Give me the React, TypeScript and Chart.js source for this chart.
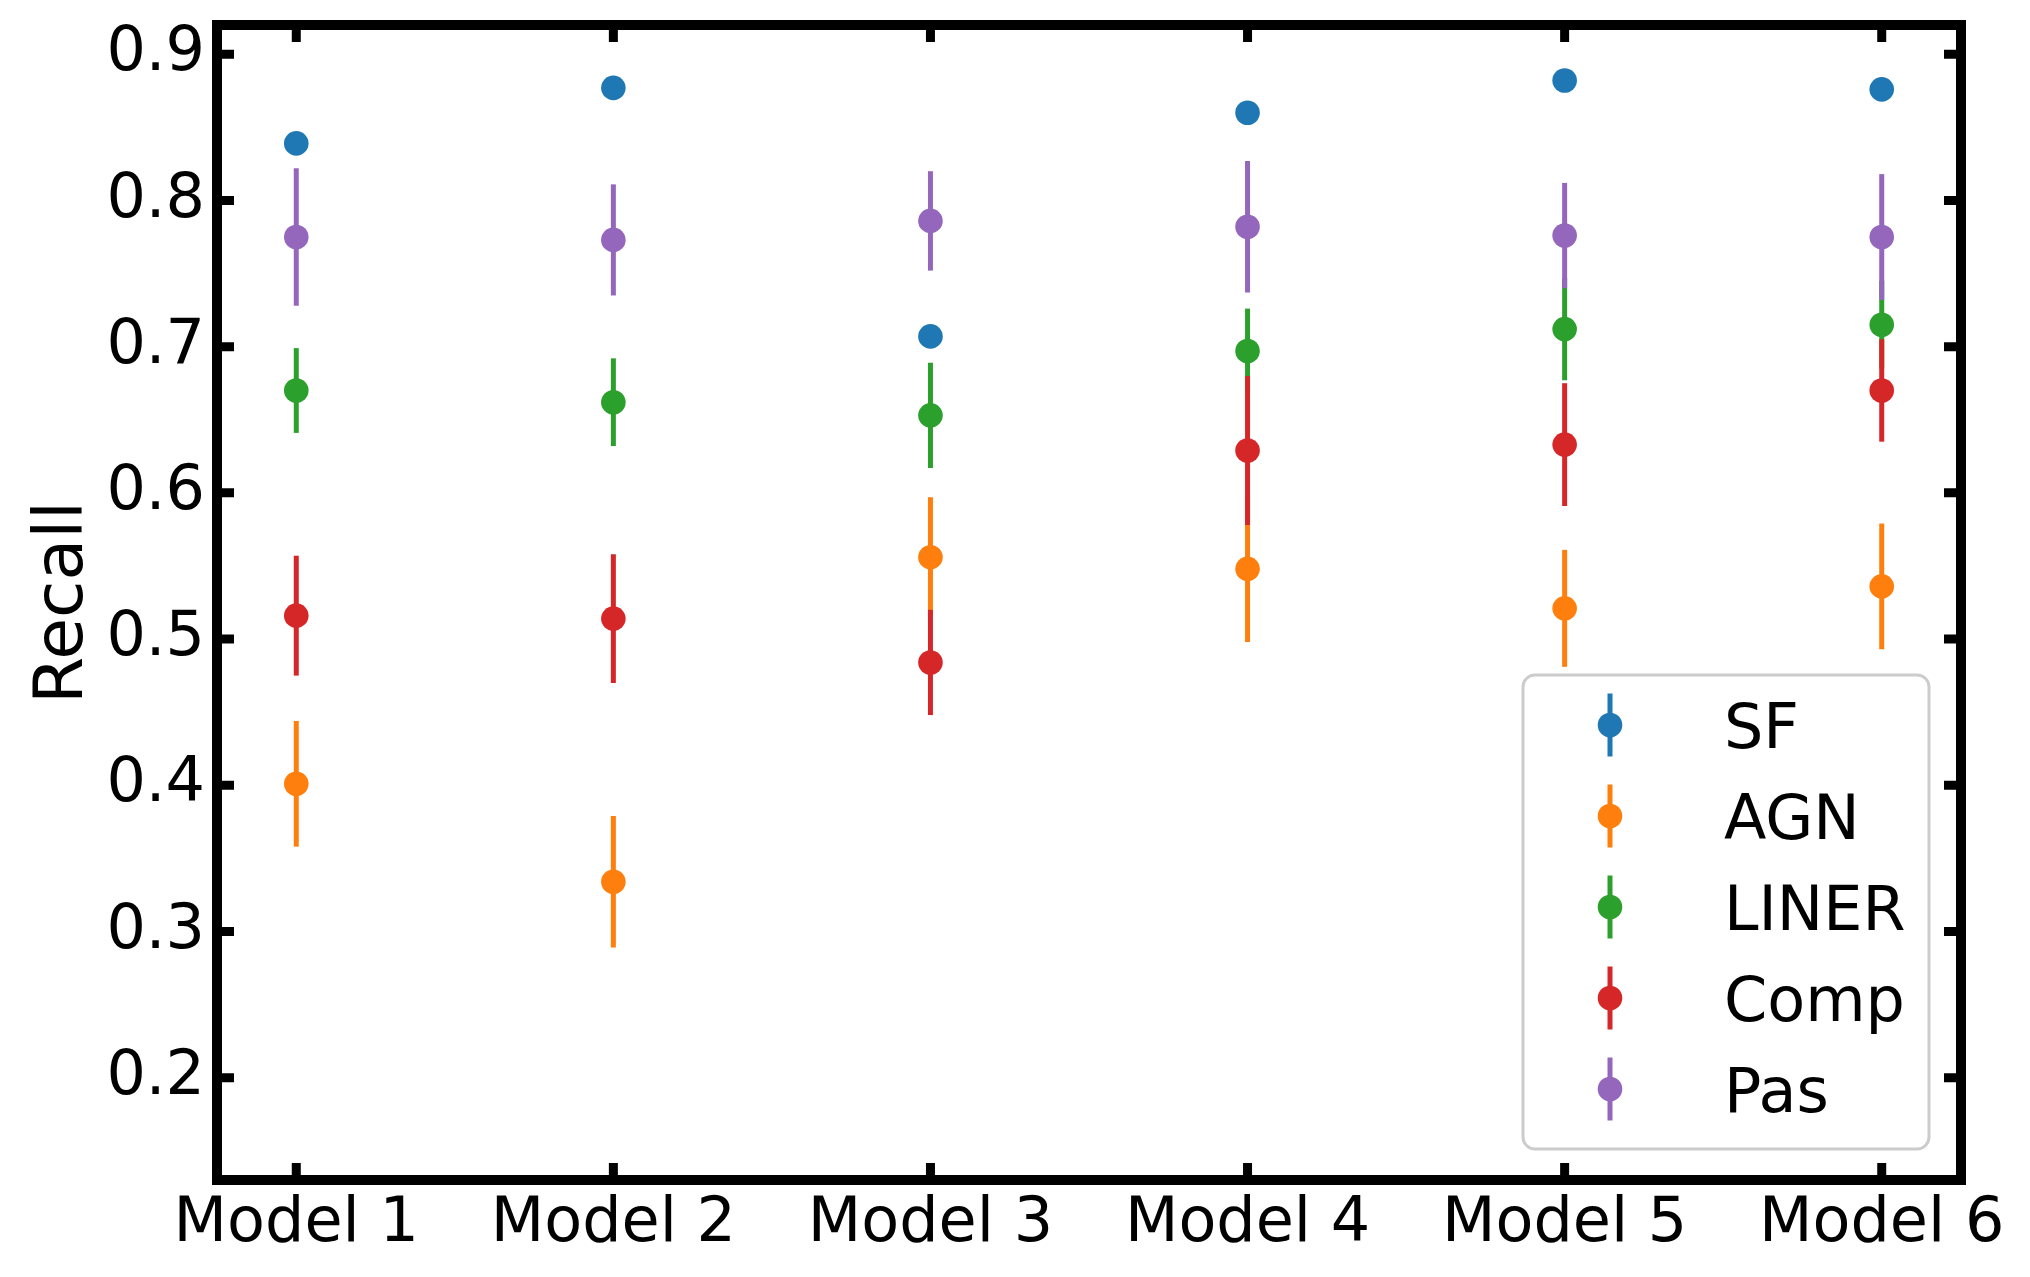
import { useEffect, useRef } from 'react';
import { Chart, registerables } from 'chart.js';

Chart.register(...registerables);

// Categories and classes
const models = ['Model 1', 'Model 2', 'Model 3', 'Model 4', 'Model 5', 'Model 6'];
const classNames = ['SF', 'AGN', 'LINER', 'Comp', 'Pas'];
const classColors = ['#1f77b4', '#ff7f0e', '#2ca02c', '#d62728', '#9467bd'];

// Recall per class (one value per model) and symmetric errors
const sfRecall = [0.839, 0.877, 0.707, 0.86, 0.882, 0.876];
const sfErr = [0, 0, 0, 0, 0, 0];
const agnRecall = [0.401, 0.334, 0.556, 0.548, 0.521, 0.536];
const agnErr = [0.043, 0.045, 0.041, 0.05, 0.04, 0.043];
const linerRecall = [0.67, 0.662, 0.653, 0.697, 0.712, 0.715];
const linerErr = [0.029, 0.03, 0.036, 0.029, 0.035, 0.03];
const compRecall = [0.516, 0.514, 0.484, 0.629, 0.633, 0.67];
const compErr = [0.041, 0.044, 0.036, 0.051, 0.042, 0.035];
const pasRecall = [0.775, 0.773, 0.786, 0.782, 0.776, 0.775];
const pasErr = [0.047, 0.038, 0.034, 0.045, 0.036, 0.043];

const yTicks = [0.2, 0.3, 0.4, 0.5, 0.6, 0.7, 0.8, 0.9];

const recallByClass = [sfRecall, agnRecall, linerRecall, compRecall, pasRecall];
const errByClass = [sfErr, agnErr, linerErr, compErr, pasErr];

const FONT = '"DejaVu Sans", sans-serif';
const TICK_SIZE = 62;
const MARKER_R = 12.3;
const ERR_WIDTH = 5;

// Error bars drawn just before each dataset's markers (matplotlib-like layering)
const errorBarPlugin = {
  id: 'errorBars',
  beforeDatasetDraw(chart: any, args: any) {
    const ds = chart.data.datasets[args.index];
    const errs: number[] = ds.errors;
    const { ctx } = chart;
    const xs = chart.scales.x;
    const ys = chart.scales.y;
    ctx.save();
    ctx.strokeStyle = ds.backgroundColor;
    ctx.lineWidth = ERR_WIDTH;
    ds.data.forEach((p: { x: number; y: number }, i: number) => {
      const e = errs[i];
      if (!e) return;
      const px = xs.getPixelForValue(p.x);
      ctx.beginPath();
      ctx.moveTo(px, ys.getPixelForValue(p.y - e));
      ctx.lineTo(px, ys.getPixelForValue(p.y + e));
      ctx.stroke();
    });
    ctx.restore();
  },
};

// Thick box frame with inward ticks on all four sides
const framePlugin = {
  id: 'frame',
  afterDatasetsDraw(chart: any) {
    const { ctx, chartArea } = chart;
    const { left, right, top, bottom } = chartArea;
    const xs = chart.scales.x;
    const ys = chart.scales.y;
    ctx.save();
    ctx.strokeStyle = '#000';
    ctx.lineWidth = 9;
    yTicks.forEach((v) => {
      const py = ys.getPixelForValue(v);
      ctx.beginPath();
      ctx.moveTo(left, py);
      ctx.lineTo(left + 17, py);
      ctx.moveTo(right, py);
      ctx.lineTo(right - 17, py);
      ctx.stroke();
    });
    models.forEach((_, i) => {
      const px = xs.getPixelForValue(i);
      ctx.beginPath();
      ctx.moveTo(px, bottom);
      ctx.lineTo(px, bottom - 17);
      ctx.moveTo(px, top);
      ctx.lineTo(px, top + 17);
      ctx.stroke();
    });
    ctx.lineWidth = 10;
    ctx.lineJoin = 'miter';
    ctx.strokeRect(left, top, right - left, bottom - top);
    ctx.restore();
  },
};

// Legend box in the lower right, markers drawn with error bar
const legendPlugin = {
  id: 'boxLegend',
  afterDraw(chart: any) {
    const { ctx, chartArea } = chart;
    const boxRight = chartArea.right - 32;
    const boxBottom = chartArea.bottom - 31;
    const boxW = 406;
    const boxH = 474;
    const boxLeft = boxRight - boxW;
    const boxTop = boxBottom - boxH;
    ctx.save();
    ctx.beginPath();
    ctx.roundRect(boxLeft, boxTop, boxW, boxH, 12);
    ctx.fillStyle = 'rgba(255,255,255,0.8)';
    ctx.fill();
    ctx.lineWidth = 3;
    ctx.strokeStyle = '#cccccc';
    ctx.stroke();

    ctx.font = `${TICK_SIZE}px ${FONT}`;
    ctx.textAlign = 'left';
    ctx.textBaseline = 'alphabetic';
    classNames.forEach((name, i) => {
      const cy = boxTop + 50 + i * 91;
      const cx = boxLeft + 87;
      ctx.strokeStyle = classColors[i];
      ctx.lineWidth = ERR_WIDTH;
      ctx.beginPath();
      ctx.moveTo(cx, cy - 31.5);
      ctx.lineTo(cx, cy + 31.5);
      ctx.stroke();
      ctx.fillStyle = classColors[i];
      ctx.beginPath();
      ctx.arc(cx, cy, MARKER_R, 0, Math.PI * 2);
      ctx.fill();
      ctx.fillStyle = '#000';
      ctx.fillText(name, boxLeft + 201, cy + TICK_SIZE * 0.729 / 2);
    });
    ctx.restore();
  },
};

export default function App() {
  const canvasRef = useRef<HTMLCanvasElement>(null);

  useEffect(() => {
    document.body.style.margin = '0';
    document.body.style.overflow = 'hidden';
    if (!canvasRef.current) return;

    const chart = new Chart(canvasRef.current, {
      type: 'scatter',
      data: {
        datasets: classNames.map((name, ci) => ({
          label: name,
          data: recallByClass[ci].map((v, i) => ({ x: i, y: v })),
          errors: errByClass[ci],
          backgroundColor: classColors[ci],
          borderWidth: 0,
          pointRadius: MARKER_R,
          pointHoverRadius: MARKER_R,
          order: classNames.length - 1 - ci,
        })) as any,
      },
      options: {
        responsive: true,
        maintainAspectRatio: false,
        animation: false,
        devicePixelRatio: 1,
        layout: { padding: { left: 0, top: 25, right: 69, bottom: 0 } },
        plugins: {
          legend: { display: false },
          tooltip: { enabled: false },
        },
        scales: {
          x: {
            type: 'linear',
            min: -0.25,
            max: 5.25,
            grid: { display: false },
            border: { display: false },
            afterBuildTicks: (scale: any) => {
              scale.ticks = models.map((_, i) => ({ value: i }));
            },
            afterFit: (scale: any) => {
              scale.height = 97;
              scale.paddingLeft = 0;
              scale.paddingRight = 0;
            },
            ticks: {
              autoSkip: false,
              maxRotation: 0,
              padding: 0,
              color: '#000',
              font: { family: FONT, size: TICK_SIZE },
              callback: (v: any) => models[v as number] ?? '',
            },
          },
          y: {
            type: 'linear',
            min: 0.13,
            max: 0.92,
            grid: { display: false, drawTicks: false },
            border: { display: false },
            afterBuildTicks: (scale: any) => {
              scale.ticks = yTicks.map((v) => ({ value: v }));
            },
            afterFit: (scale: any) => {
              scale.width = 217;
              scale.paddingTop = 0;
              scale.paddingBottom = 0;
            },
            title: {
              display: true,
              text: 'Recall',
              color: '#000',
              padding: { top: 24, bottom: 0 },
              font: { family: FONT, size: 68 },
            },
            ticks: {
              padding: 12,
              color: '#000',
              font: { family: FONT, size: TICK_SIZE },
              callback: (v: any) => Number(v).toFixed(1),
            },
          },
        },
      },
      plugins: [errorBarPlugin, framePlugin, legendPlugin],
    });

    return () => chart.destroy();
  }, []);

  return (
    <div style={{ width: 2030, height: 1277, position: 'relative', background: '#fff' }}>
      <canvas ref={canvasRef} />
    </div>
  );
}
